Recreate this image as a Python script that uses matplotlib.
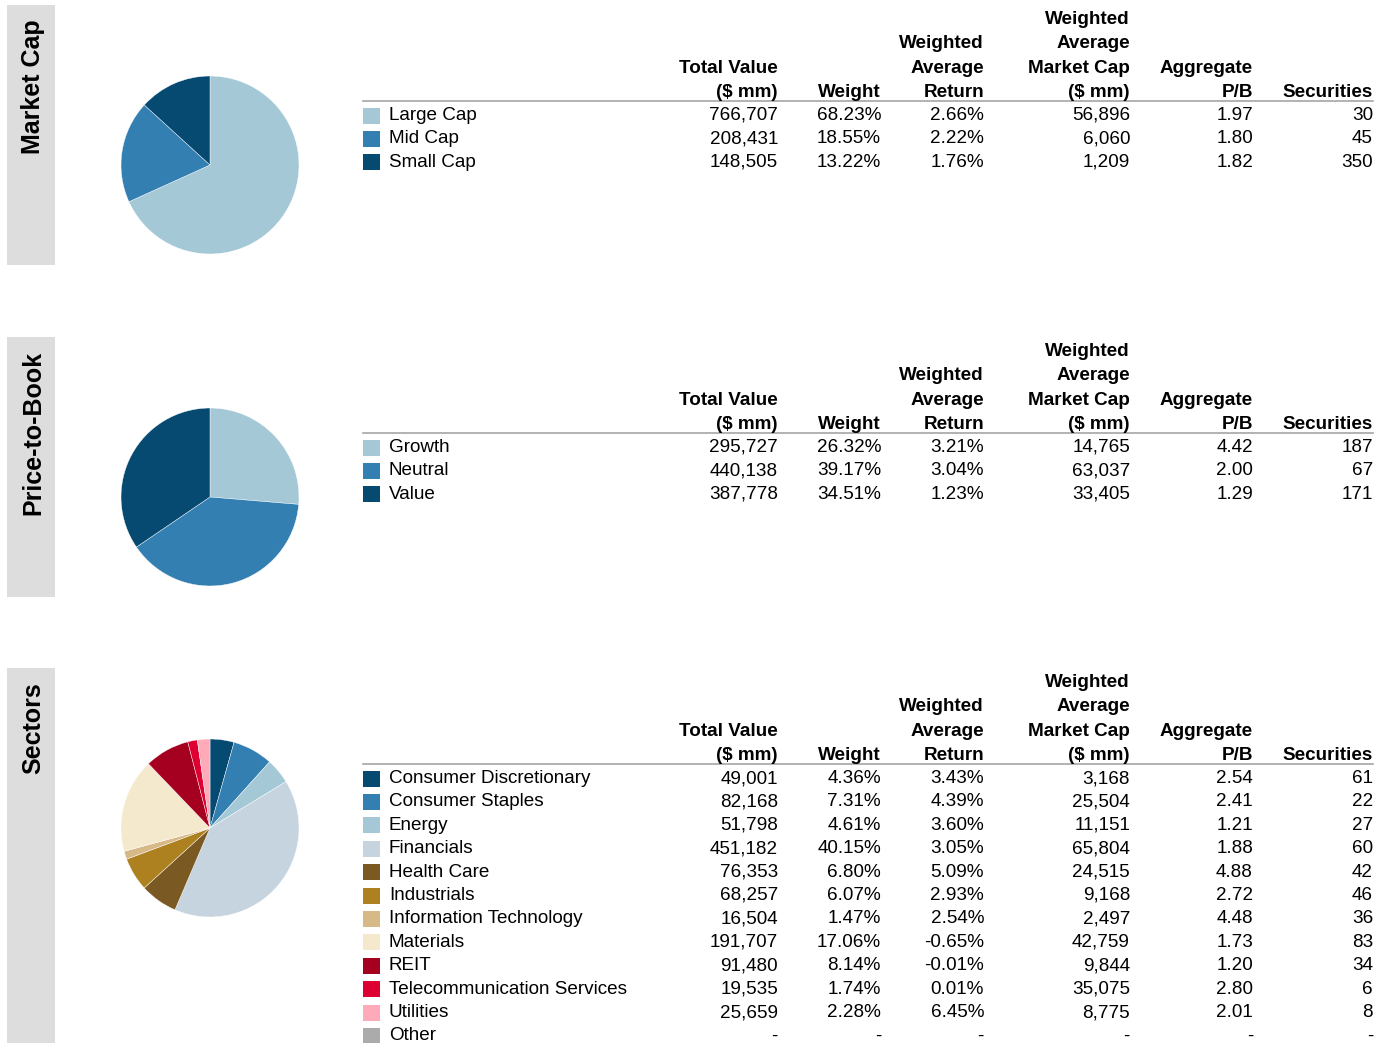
import matplotlib
matplotlib.use('Agg')
import matplotlib.pyplot as plt
from matplotlib.patches import Rectangle

plt.rcParams['font.family'] = ['Liberation Sans', 'DejaVu Sans']

W, H = 1387, 1043

# ---- data ----
mc_labels = ['Large Cap', 'Mid Cap', 'Small Cap']
mc_total = [766707, 208431, 148505]
mc_weight = [68.23, 18.55, 13.22]
mc_return = [2.66, 2.22, 1.76]
mc_mktcap = [56896, 6060, 1209]
mc_pb = [1.97, 1.80, 1.82]
mc_secs = [30, 45, 350]
mc_colors = ['#a5c8d6', '#337fb2', '#064a72']

pb_labels = ['Growth', 'Neutral', 'Value']
pb_total = [295727, 440138, 387778]
pb_weight = [26.32, 39.17, 34.51]
pb_return = [3.21, 3.04, 1.23]
pb_mktcap = [14765, 63037, 33405]
pb_pb = [4.42, 2.00, 1.29]
pb_secs = [187, 67, 171]
pb_colors = ['#a5c8d6', '#337fb2', '#064a72']

sec_labels = ['Consumer Discretionary', 'Consumer Staples', 'Energy', 'Financials',
              'Health Care', 'Industrials', 'Information Technology', 'Materials',
              'REIT', 'Telecommunication Services', 'Utilities', 'Other']
sec_total = [49001, 82168, 51798, 451182, 76353, 68257, 16504, 191707, 91480, 19535, 25659, None]
sec_weight = [4.36, 7.31, 4.61, 40.15, 6.80, 6.07, 1.47, 17.06, 8.14, 1.74, 2.28, None]
sec_return = [3.43, 4.39, 3.60, 3.05, 5.09, 2.93, 2.54, -0.65, -0.01, 0.01, 6.45, None]
sec_mktcap = [3168, 25504, 11151, 65804, 24515, 9168, 2497, 42759, 9844, 35075, 8775, None]
sec_pb = [2.54, 2.41, 1.21, 1.88, 4.88, 2.72, 4.48, 1.73, 1.20, 2.80, 2.01, None]
sec_secs = [61, 22, 27, 60, 42, 46, 36, 83, 34, 6, 8, None]
sec_colors = ['#064a72', '#337fb2', '#a5c8d6', '#c5d4de', '#7a5a22', '#ad8120',
              '#d7b987', '#f4e9cd', '#a5001f', '#dd0030', '#ffaab8', '#ababab']

headers = [['Total Value', '($ mm)'], ['Weight'], ['Weighted', 'Average', 'Return'],
           ['Weighted', 'Average', 'Market Cap', '($ mm)'], ['Aggregate', 'P/B'], ['Securities']]

sections = [
    ('Market Cap', mc_labels, [mc_total, mc_weight, mc_return, mc_mktcap, mc_pb, mc_secs], mc_colors),
    ('Price-to-Book', pb_labels, [pb_total, pb_weight, pb_return, pb_mktcap, pb_pb, pb_secs], pb_colors),
    ('Sectors', sec_labels, [sec_total, sec_weight, sec_return, sec_mktcap, sec_pb, sec_secs], sec_colors),
]
fmts = ['{:,.0f}', '{:.2f}%', '{:.2f}%', '{:,.0f}', '{:.2f}', '{:d}']

# ---- layout ----
col_right = [778, 881, 984, 1130, 1253, 1373]
sec_top = [5, 337, 668]
sec_bottom = [265, 597, 1043]
FS = 13.6

fig = plt.figure(figsize=(W / 100, H / 100), dpi=100)
ax = fig.add_axes([0, 0, 1, 1])
ax.set_xlim(0, W)
ax.set_ylim(H, 0)
ax.axis('off')

for k, (title, labels, cols, colors) in enumerate(sections):
    top = sec_top[k]
    # side band
    ax.add_patch(Rectangle((7, top), 48, sec_bottom[k] - top, color='#dddddd', lw=0))
    ax.text(33, top + 14, title, rotation=90, ha='center', va='top',
            fontsize=18, fontweight='bold')

    # pie
    cy = top + 160
    r = 89
    pax = fig.add_axes([(210 - r) / W, 1 - (cy + r) / H, 2 * r / W, 2 * r / H])
    vals = [w if w is not None else 0 for w in cols[1]]
    pie_vals = [v for v in vals if v > 0]
    pie_cols = [c for v, c in zip(vals, colors) if v > 0]
    pax.pie(pie_vals, colors=pie_cols, startangle=90, counterclock=False,
            wedgeprops=dict(edgecolor='white', linewidth=0.3))
    pax.set_xlim(-1, 1)
    pax.set_ylim(-1, 1)
    pax.set_aspect('equal')

    # header
    line_y = top + 96
    for c, hdr in enumerate(headers):
        for j, h in enumerate(reversed(hdr)):
            ax.text(col_right[c], line_y - 4 - j * 24.4, h, ha='right', va='baseline',
                    fontsize=FS, fontweight='bold')
    ax.plot([363, 1373], [line_y, line_y], color='#a6a6a6', lw=1.2)

    # rows
    for i, lab in enumerate(labels):
        y = line_y + 14.5 + i * 23.4
        ax.add_patch(Rectangle((363, y - 8), 17, 16, color=colors[i], lw=0))
        ax.text(389, y, lab, ha='left', va='center', fontsize=FS)
        for c, col in enumerate(cols):
            v = col[i]
            s = '-' if v is None else fmts[c].format(v)
            ax.text(col_right[c], y, s, ha='right', va='center', fontsize=FS)

fig.savefig('out.png', dpi=100)
